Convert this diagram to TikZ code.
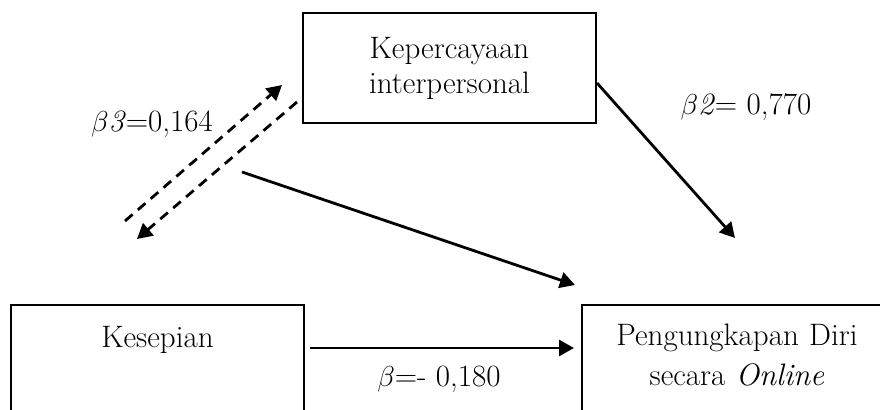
\documentclass[tikz,border=0pt]{standalone}
\usepackage{tikz}
\usetikzlibrary{arrows.meta,positioning,calc}

\begin{document}
\begin{tikzpicture}[x=0.5pt, y=-0.5pt,
  font=\fontsize{15.5}{17.5}\selectfont,
  box/.style={rectangle, draw=black, line width=1pt, align=center, inner sep=0pt},
  lab/.style={inner sep=0pt, anchor=base},
  arr/.style={-{Triangle[length=7.5pt,width=8pt]}, line width=1.4pt},
  darr/.style={arr, dash pattern=on 5pt off 3.5pt}]
\useasboundingbox (0,0) rectangle (880,410);
\clip (0,0) rectangle (880,410);
\node[box, minimum width=146.5pt, minimum height=55pt] (t) at (449.5,68) {Kepercayaan\\interpersonal};
\node[box, anchor=north, text width=146.5pt, text height=21.5pt, text depth=60pt] (k) at (157.5,304) {Kesepian};
\node[box, anchor=north, text width=155pt, text height=20.5pt, text depth=60pt] (p) at (737,304) {Pengungkapan Diri\\[2.5pt] secara \textit{Online}};
\coordinate (c2) at (735,238);
\coordinate (s1) at (242,172);
\coordinate (e1) at (575,285);
\coordinate (d1a) at (125,221);
\coordinate (d1b) at (282,85);
\coordinate (d2a) at (297,102);
\coordinate (d2b) at (137,239);
\node[lab] (b3) at (152,132) {$\beta$\textit{3}=0,164};
\node[lab] (b2) at (746,115) {$\beta$\textit{2}= 0,770};
\node[lab] (b1) at (439,387) {$\beta$=- 0,180};
\draw[arr] ([yshift=-7.5pt]t.east) -- (c2);
\draw[arr] (s1) -- (e1);
\draw[darr] (d1a) -- (d1b);
\draw[darr] (d2a) -- (d2b);
\draw[arr] ($(k.base east)+(5,0)$) -- ($(k.base east -| p.west)+(-7,0)$);
\end{tikzpicture}
\end{document}
